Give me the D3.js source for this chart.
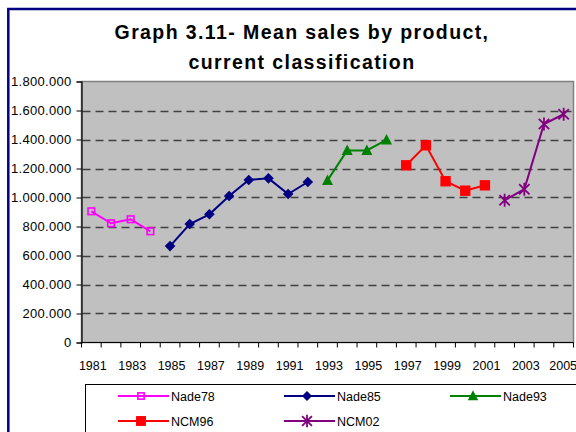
<!DOCTYPE html>
<html><head><meta charset="utf-8">
<script src="https://cdn.jsdelivr.net/npm/d3@7"></script>
<style>body{margin:0;background:#fff}svg{display:block;font-family:"Liberation Sans",Arial,sans-serif}</style>
</head><body><svg id="c" width="576" height="432"></svg>
<script>
const years = d3.range(1981, 2006);
const tickYears = [1981,1983,1985,1987,1989,1991,1993,1995,1997,1999,2001,2003,2005];
const yTicks = [0,200000,400000,600000,800000,1000000,1200000,1400000,1600000,1800000];
const nade78Years = [1981,1982,1983,1984];
const nade78 = [905000,822000,850000,767000];
const nade85Years = [1985,1986,1987,1988,1989,1990,1991,1992];
const nade85 = [665000,817000,884000,1010000,1121000,1132000,1024000,1107000];
const nade93Years = [1993,1994,1995,1996];
const nade93 = [1118000,1325000,1325000,1397000];
const ncm96Years = [1997,1998,1999,2000,2001];
const ncm96 = [1222000,1360000,1112000,1047000,1084000];
const ncm02Years = [2002,2003,2004,2005];
const ncm02 = [981000,1057000,1507000,1574000];

const series = [
  {name:"Nade78", years:nade78Years, values:nade78, color:"#FF00FF", marker:"hsquare"},
  {name:"Nade85", years:nade85Years, values:nade85, color:"#000080", marker:"diamond"},
  {name:"Nade93", years:nade93Years, values:nade93, color:"#008000", marker:"triangle"},
  {name:"NCM96", years:ncm96Years, values:ncm96, color:"#FF0000", marker:"square"},
  {name:"NCM02", years:ncm02Years, values:ncm02, color:"#800080", marker:"star"}
];

const svg = d3.select("#c");
const L=81.5, R=573.5, T=81.5, B=342.5;
const x = d3.scaleBand().domain(years).range([L,R]);
const y = d3.scaleLinear().domain([0,1800000]).range([B,T]);
const fmt = v => d3.format(",")(v).replace(/,/g,".");

// outer frame
svg.append("rect").attr("x",8.3).attr("y",9).attr("width",600).attr("height",600)
  .attr("fill","#fff").attr("stroke","#000080").attr("stroke-width",2.5);

// title
const title = svg.append("text").attr("text-anchor","middle").attr("font-weight","bold")
  .attr("font-size",19.5).attr("letter-spacing","1.4px").attr("fill","#000");
title.append("tspan").attr("x",302).attr("y",39).text("Graph 3.11- Mean sales by product,");
title.append("tspan").attr("x",302).attr("y",69).text("current classification");

// plot area
svg.append("rect").attr("x",L).attr("y",T).attr("width",R-L).attr("height",B-T)
  .attr("fill","#C0C0C0").attr("stroke","#808080").attr("stroke-width",1.5);

// gridlines
svg.append("g").selectAll("line").data(yTicks.filter(v=>v>0 && v<1800000)).join("line")
  .attr("x1",L+1).attr("x2",R).attr("y1",d=>Math.round(y(d))+0.5).attr("y2",d=>Math.round(y(d))+0.5)
  .attr("stroke","#404040").attr("stroke-width",1.5).attr("stroke-dasharray","8,5");

// y axis
const ya = svg.append("g").attr("transform",`translate(${L},0)`)
  .call(d3.axisLeft(y).tickValues(yTicks).tickFormat(fmt).tickSize(5).tickPadding(5));
ya.select(".domain").attr("stroke","#000").attr("stroke-width",1.2);
ya.selectAll("line").attr("stroke","#000");
ya.selectAll("text").attr("font-size",13).attr("letter-spacing","0.3px").attr("fill","#000")
  .attr("font-family","Liberation Sans, Arial, sans-serif");

// x axis
const xa = svg.append("g").attr("transform",`translate(0,${B})`);
xa.append("line").attr("x1",L).attr("x2",R).attr("y1",0).attr("y2",0).attr("stroke","#000").attr("stroke-width",1.2);
xa.selectAll("line.t").data(years.concat([2006])).join("line").attr("class","t")
  .attr("x1",d=>d===2006?R:x(d)).attr("x2",d=>d===2006?R:x(d)).attr("y1",0).attr("y2",5).attr("stroke","#000");
xa.selectAll("text").data(tickYears).join("text")
  .attr("x",d=>x(d)+x.bandwidth()/2+(d===2005?-0.5:1.5)).attr("y",27.5).attr("text-anchor","middle")
  .attr("font-size",12.5).attr("fill","#000").text(d=>d);

// markers
function drawMarker(g, type, color, s){
  if(type==="hsquare") g.append("rect").attr("x",-3.3*s).attr("y",-3.3*s).attr("width",6.6*s).attr("height",6.6*s)
    .attr("fill","none").attr("stroke",color).attr("stroke-width",1.6);
  else if(type==="square") g.append("rect").attr("x",-5.2*s).attr("y",-5.2*s).attr("width",10.4*s).attr("height",10.4*s).attr("fill",color);
  else if(type==="diamond") g.append("path").attr("d",`M0,${-5.3*s}L${5.3*s},0L0,${5.3*s}L${-5.3*s},0Z`).attr("fill",color);
  else if(type==="triangle") g.append("path").attr("d",`M0,${-6*s}L${5.5*s},${4.5*s}L${-5.5*s},${4.5*s}Z`).attr("fill",color);
  else if(type==="star"){
    const r=5.2*s;
    g.append("path").attr("d",`M${-r},${-r}L${r},${r}M${-r},${r}L${r},${-r}M0,${-r*1.25}L0,${r*1.25}`)
      .attr("stroke",color).attr("stroke-width",1.8).attr("fill","none");
  }
}

const line = d3.line().x(d=>x(d[0])+x.bandwidth()/2).y(d=>y(d[1]));
series.forEach(s=>{
  const pts = s.years.map((yr,i)=>[yr,s.values[i]]);
  svg.append("path").datum(pts).attr("d",line).attr("fill","none").attr("stroke",s.color).attr("stroke-width",2);
  pts.forEach(p=>{
    const g = svg.append("g").attr("transform",`translate(${x(p[0])+x.bandwidth()/2},${y(p[1])})`);
    drawMarker(g,s.marker,s.color,1);
  });
});

// legend
svg.append("rect").attr("x",85.5).attr("y",384.5).attr("width",600).attr("height",100)
  .attr("fill","#fff").attr("stroke","#000").attr("stroke-width",1);
const legPos = [[118,396],[284,396],[450,396],[118,421],[284,421]];
series.forEach((s,i)=>{
  const [lx,ly]=legPos[i];
  const g = svg.append("g");
  g.append("line").attr("x1",lx).attr("x2",lx+51).attr("y1",ly).attr("y2",ly).attr("stroke",s.color).attr("stroke-width",2);
  const m = g.append("g").attr("transform",`translate(${lx+23},${ly})`);
  drawMarker(m,s.marker,s.color,0.95);
  g.append("text").attr("x",lx+53).attr("y",ly+4.5).attr("font-size",12.5).attr("fill","#000").text(s.name);
});
</script></body></html>
